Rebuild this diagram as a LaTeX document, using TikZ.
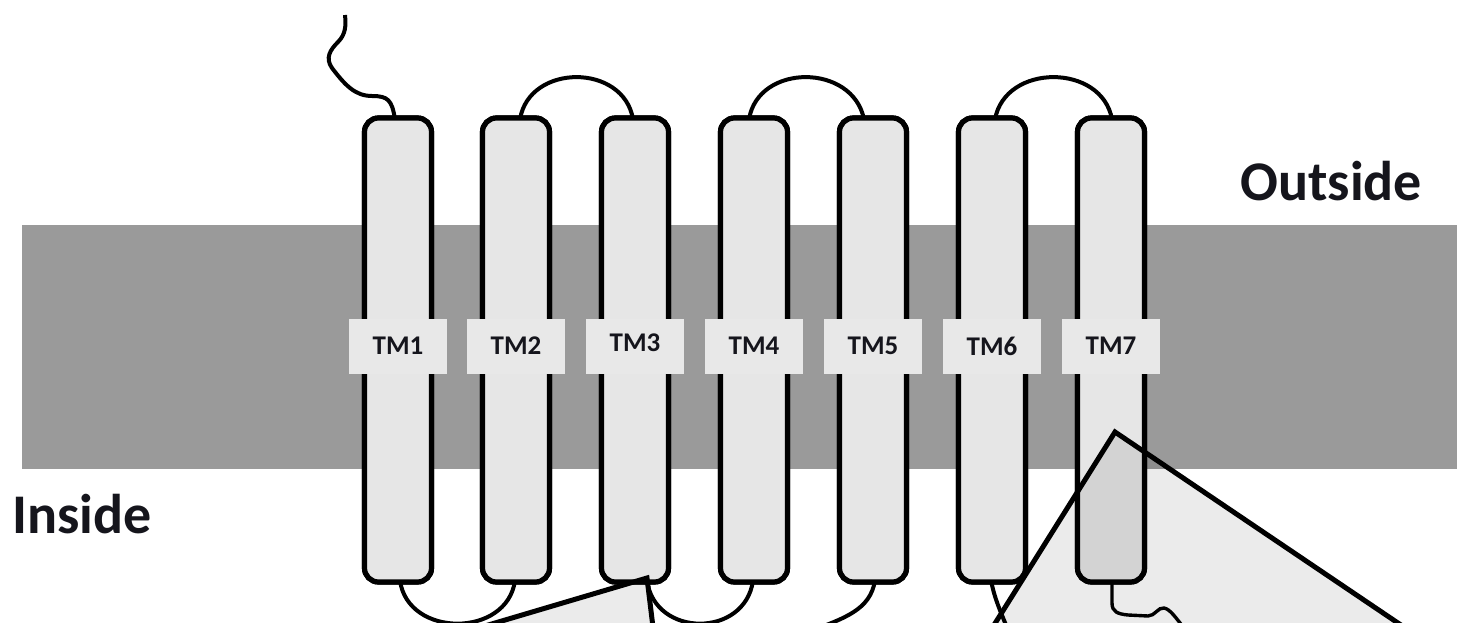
\documentclass[tikz,border=0pt]{standalone}
\usepackage{fontspec}
\newfontfamily\labfont{Carlito}
\usetikzlibrary{calc}
\definecolor{bandgray}{HTML}{9A9A9A}
\definecolor{helixgray}{HTML}{E6E6E6}
\definecolor{labgray}{HTML}{E8E8E8}
\definecolor{txt}{HTML}{15151C}
\tikzset{
  helix/.style={draw=black, line width=2.6pt, fill=helixgray, rounded corners=7pt,
    minimum width=33.5pt, minimum height=232pt, inner sep=0pt},
  tmlabel/.style={fill=labgray, minimum width=49pt, minimum height=27.5pt, inner sep=0pt},
  tmtext/.style={text=txt, inner sep=0pt, font=\labfont\bfseries\fontsize{13.5}{16}\selectfont},
  sidelabel/.style={text=txt, inner sep=0pt, font=\labfont\bfseries\fontsize{28}{32}\selectfont},
  loopline/.style={draw=black, line width=2pt},
  callout/.style={draw=black, line width=2.5pt, fill=black, fill opacity=0.08, line join=miter},
}
\begin{document}
\begin{tikzpicture}[x=0.5pt,y=-0.5pt]
\useasboundingbox (0,0) rectangle (1457,622);
\clip (0,0) rectangle (1457,622);
% membrane
\fill[bandgray] (22,225) rectangle (1457,469);
% helix positions (named nodes)
\foreach \i/\x in {1/398,2/516,3/635,4/754,5/873,6/992,7/1111}{
  \node[helix] (h\i) at (\x,350) {};
}
% loops
\path[loopline] ($(h1.north)+(-3,4)$) .. controls (392,100) and (388,96) .. (372,96)
  .. controls (355,96) and (345,85) .. (332,68)
  .. controls (325,58) and (330,50) .. (338,42)
  .. controls (346,34) and (346,25) .. (345,15);
\path[loopline] ($(h2.north)+(4,4)$) .. controls (529,63) and (624,63) .. ($(h3.north)+(-2,4)$);
\path[loopline] ($(h4.north)+(-5,4)$) .. controls (758,63) and (853,63) .. ($(h5.north)+(-9,4)$);
\path[loopline] ($(h6.north)+(3,4)$) .. controls (1005,63) and (1102,63) .. ($(h7.north)+(1,4)$);
\path[loopline] ($(h1.south)+(2,-4)$) .. controls (408,638) and (507,638) .. ($(h2.south)+(-1,-4)$);
\path[loopline] ($(h3.south)+(12,-4)$) .. controls (655,638) and (745,638) .. ($(h4.south)+(-1,-4)$);
\path[loopline] ($(h5.south)+(2,-4)$) .. controls (870,610) and (845,618) .. (808,632);
\path[loopline] ($(h6.south)+(-1,-4)$) .. controls (995,600) and (1000,610) .. (1008,630);
% redraw helices on top of loops
\foreach \i/\x in {1/398,2/516,3/635,4/754,5/873,6/992,7/1111}{
  \node[helix] at (\x,350) {};
}
% labels
\foreach \i/\x/\dy in {1/398/0,2/516/0,3/635/-3,4/754/0,5/873/0,6/992/0,7/1111/0}{
  \node[tmlabel] (l\i) at (\x,346) {};
  \node[tmtext] (t\i) at (\x,346+\dy) {TM\i};
}
\node[sidelabel, anchor=base west] (outside) at (1240,200) {Outside};
\node[sidelabel, anchor=base west] (inside) at (12,533) {Inside};
% C-terminus squiggle
\coordinate (cend) at (1184,628);
\draw[line width=1.7pt] ($(h7.south)+(1,-4)$) -- (1112,603)
  .. controls (1112,612) and (1118,614) .. (1128,615) -- (1148,616)
  .. controls (1155,616) and (1158,607) .. (1164,608)
  .. controls (1170,609) and (1176,618) .. (cend);
% callouts
\coordinate (apexA) at (1115,432);
\coordinate (apexB) at (647,578);
\path[callout] (947,700) -- (apexA) -- (1512,700) -- cycle;
\path[callout] (370,660) -- (apexB) -- (657,660) -- cycle;
\end{tikzpicture}
\end{document}
